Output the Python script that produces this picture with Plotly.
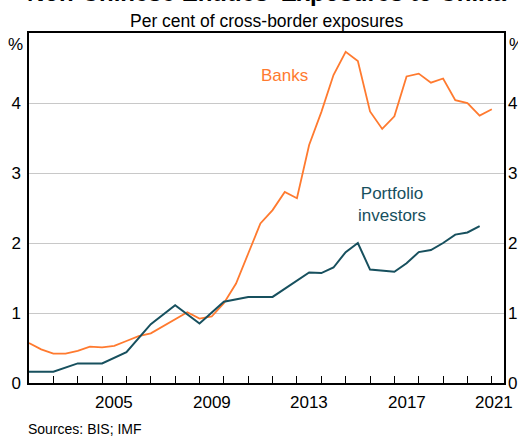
import plotly.graph_objects as go

# Banks: half-yearly observations
banks_years = [2002.0 + 0.5 * i for i in range(39)]
banks_share = [0.57, 0.48, 0.42, 0.42, 0.46, 0.52, 0.51, 0.53, 0.60, 0.67,
               0.71, 0.81, 0.92, 1.01, 0.92, 0.95, 1.14, 1.42, 1.85, 2.28,
               2.47, 2.73, 2.64, 3.40, 3.87, 4.40, 4.73, 4.60, 3.88, 3.63,
               3.81, 4.38, 4.42, 4.29, 4.35, 4.04, 4.00, 3.82, 3.91]

# Portfolio investors: yearly to 2011, then half-yearly
portfolio_years = [2002, 2003, 2004, 2005, 2006, 2007, 2008, 2009, 2010, 2011,
                   2012.0, 2012.5, 2013.0, 2013.5, 2014.0, 2014.5, 2015.0,
                   2015.5, 2016.0, 2016.5, 2017.0, 2017.5, 2018.0, 2018.5,
                   2019.0, 2019.5, 2020.0, 2020.5]
portfolio_share = [0.16, 0.16, 0.28, 0.28, 0.44, 0.84, 1.11, 0.85, 1.16, 1.23,
                   1.23, 1.35, 1.47, 1.58, 1.57, 1.65, 1.87,
                   2.00, 1.62, 1.61, 1.59, 1.71, 1.87, 1.90,
                   2.00, 2.12, 2.15, 2.24]

year_labels = ["2005", "2009", "2013", "2017", "2021"]
y_ticks = [0, 1, 2, 3, 4]

ORANGE = "#FF7A2F"
TEAL = "#17505E"
FONT = "Arial, Liberation Sans, sans-serif"

x_start, x_end = 2002, 2021.5
year_bounds = list(range(2002, 2022))
# labels sit mid-year; the last one is pulled back from the edge
label_pos = [min(int(y) + 0.5, x_end - 0.4) for y in year_labels]

fig = go.Figure()
fig.add_trace(go.Scatter(x=banks_years, y=banks_share, mode="lines",
                         line=dict(color=ORANGE, width=1.8), showlegend=False))
fig.add_trace(go.Scatter(x=portfolio_years, y=portfolio_share, mode="lines",
                         line=dict(color=TEAL, width=2), showlegend=False))
# dummy trace so the right-hand axis gets drawn
fig.add_trace(go.Scatter(x=[None], y=[None], yaxis="y2",
                         showlegend=False, hoverinfo="skip"))

fig.update_layout(
    width=518, height=437,
    margin=dict(l=29, r=14, t=33, b=54, autoexpand=False),
    paper_bgcolor="white", plot_bgcolor="white",
    font=dict(family=FONT, size=17, color="black"),
    xaxis=dict(range=[x_start, x_end], showgrid=False, zeroline=False,
               showline=True, linecolor="black", linewidth=1.5, mirror=True,
               tickmode="array", tickvals=year_bounds,
               ticktext=["" for _ in year_bounds], automargin=False,
               ticks="inside", ticklen=7, tickcolor="black", tickwidth=1),
    yaxis=dict(range=[0, 5], tickmode="array", tickvals=y_ticks,
               showgrid=True, gridcolor="#C8C8C8", gridwidth=1.2,
               zeroline=False, showline=True, linecolor="black",
               linewidth=1.5, mirror=True, ticks="", automargin=False,
               ticklabelstandoff=3),
    yaxis2=dict(range=[0, 5], overlaying="y", side="right", anchor="x",
                tickmode="array", tickvals=y_ticks, showgrid=False,
                zeroline=False, showline=False, ticks="", automargin=False,
                ticklabelstandoff=3),
)

for pos, lab in zip(label_pos, year_labels):
    fig.add_annotation(x=pos, y=-0.057, xref="x", yref="paper", text=lab,
                       showarrow=False, xanchor="center", yanchor="middle",
                       font=dict(size=17))

ann = [
    dict(text="<b>Non-Chinese Entities' Exposures to China</b>", x=0.5,
         y=1.115, font=dict(size=24)),
    dict(text="Per cent of cross-border exposures", x=0.5, y=1.034,
         font=dict(size=17.5)),
    dict(text="%", x=-0.008, y=0.967, xanchor="right", font=dict(size=17)),
    dict(text="%", x=1.006, y=0.967, xanchor="left", font=dict(size=17)),
    dict(text="Banks", x=0.537, y=0.88, font=dict(size=17, color=ORANGE)),
    dict(text="Portfolio<br>investors", x=0.764, y=0.511,
         font=dict(size=17, color=TEAL)),
    dict(text="Sources: BIS; IMF", x=-0.006, y=-0.131, xanchor="left",
         font=dict(size=14)),
]
for a in ann:
    a.setdefault("xanchor", "center")
    fig.add_annotation(xref="paper", yref="paper", showarrow=False,
                       yanchor="middle", **a)

# the page's default 8px body margin would shift the chart
fig.write_html("out.html", config={"displayModeBar": False},
               post_script="document.body.style.margin='0px';")
